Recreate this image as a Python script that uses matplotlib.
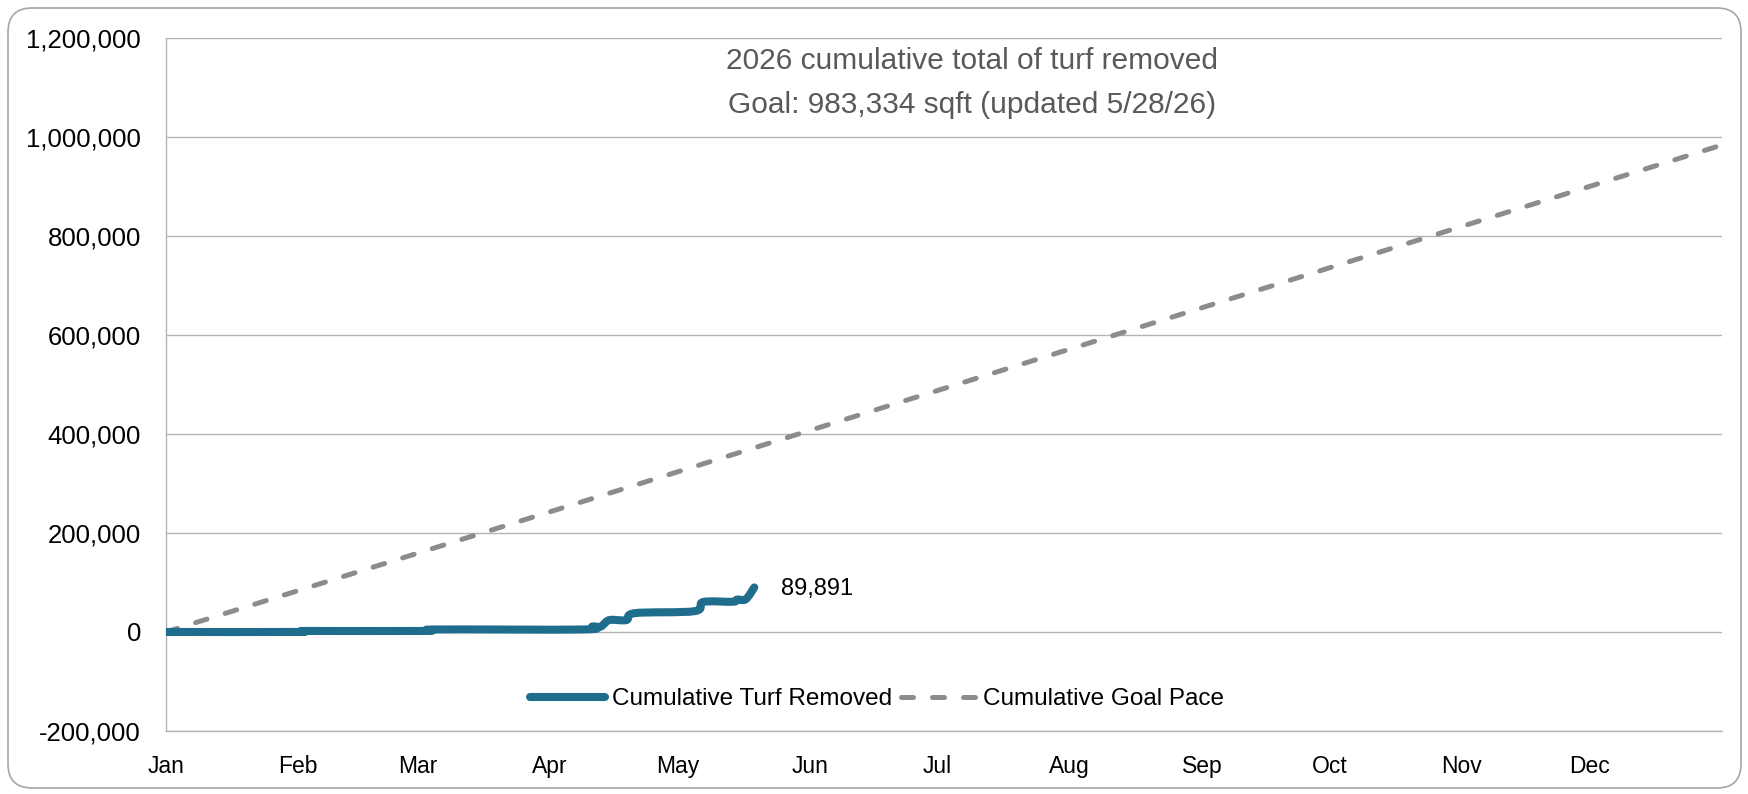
import matplotlib
matplotlib.use("Agg")
import matplotlib.pyplot as plt
from matplotlib import font_manager
from matplotlib.patches import FancyBboxPatch, PathPatch
from matplotlib.path import Path
from matplotlib.lines import Line2D
from matplotlib.transforms import IdentityTransform
from matplotlib.ticker import FuncFormatter

# ---- data ----
months = ["Jan", "Feb", "Mar", "Apr", "May", "Jun", "Jul", "Aug", "Sep", "Oct", "Nov", "Dec"]
month_start_days = [0, 31, 59, 90, 120, 151, 181, 212, 243, 273, 304, 334]

turf_days = [0, 31, 33, 61, 63, 98, 100, 102, 104, 108, 110, 124, 126, 133, 134, 136, 138]
turf_values = [0, 0, 2000, 2000, 5000, 5000, 11000, 11000, 24000, 24000, 38000, 42000,
               60500, 61000, 65500, 66000, 89891]

goal_days = [0, 365]
goal_values = [0, 983334]

title_line1 = "2026 cumulative total of turf removed"
title_line2 = "Goal: 983,334 sqft (updated 5/28/26)"
end_label = "89,891"

# ---- fonts ----
available = {f.name for f in font_manager.fontManager.ttflist}
main_font = "Liberation Sans" if "Liberation Sans" in available else "DejaVu Sans"
plt.rcParams["font.family"] = [main_font, "DejaVu Sans"]

W, H = 1749, 794
fig = plt.figure(figsize=(W / 100, H / 100), dpi=100)

border = FancyBboxPatch((8, 6), W - 16, H - 14,
                        boxstyle="round,pad=0,rounding_size=24",
                        transform=IdentityTransform(), facecolor="none",
                        edgecolor="#a6a6a6", linewidth=1.2, zorder=-1)
fig.patches.append(border)

left, right = 166 / W, 1722 / W
top, bottom = 1 - 37.7 / H, 1 - 731 / H
ax = fig.add_axes([left, bottom, right - left, top - bottom])
ax.set_facecolor("none")

blue = "#1f6d8c"
gray = "#8c8c8c"

ax.plot(goal_days, goal_values, color=gray, linewidth=3.6, dashes=(2.4, 3.8),
        dash_capstyle="round", solid_capstyle="round", zorder=3)


def smooth_path(xs, ys):
    """Smoothed line through the points (Catmull-Rom as cubic Bezier), like a smoothed Excel line."""
    pts = list(zip(xs, ys))
    n = len(pts)
    verts = [pts[0]]
    codes = [Path.MOVETO]
    for i in range(n - 1):
        p0 = pts[i - 1] if i > 0 else pts[i]
        p1 = pts[i]
        p2 = pts[i + 1]
        p3 = pts[i + 2] if i + 2 < n else pts[i + 1]
        c1 = (p1[0] + (p2[0] - p0[0]) / 6, p1[1] + (p2[1] - p0[1]) / 6)
        c2 = (p2[0] - (p3[0] - p1[0]) / 6, p2[1] - (p3[1] - p1[1]) / 6)
        verts += [c1, c2, p2]
        codes += [Path.CURVE4, Path.CURVE4, Path.CURVE4]
    return Path(verts, codes)


turf_patch = PathPatch(smooth_path(turf_days, turf_values), facecolor="none", edgecolor=blue,
                       linewidth=5.8, capstyle="round", joinstyle="round", zorder=4)
ax.add_patch(turf_patch)

ax.annotate(end_label, xy=(turf_days[-1], turf_values[-1]), xytext=(19, -1),
            textcoords="offset points", va="center", ha="left", fontsize=17, color="black")

ax.set_xlim(0, 365)
ax.set_ylim(-200000, 1200000)
ax.set_yticks(range(-200000, 1200001, 200000))
ax.yaxis.set_major_formatter(FuncFormatter(lambda v, p: f"{int(v):,}"))
ax.set_xticks(month_start_days)
ax.set_xticklabels(months)

ax.grid(axis="y", color="#b3b3b3", linewidth=1.0)
ax.set_axisbelow(True)
for s in ["top", "right"]:
    ax.spines[s].set_visible(False)
for s in ["left", "bottom"]:
    ax.spines[s].set_color("#b3b3b3")
    ax.spines[s].set_linewidth(1.0)
ax.tick_params(axis="y", length=0, pad=18, labelsize=18.5, labelcolor="black")
ax.tick_params(axis="x", length=0, pad=17, labelsize=16.5, labelcolor="black")

fig.text(972 / W, 1 - 61 / H, title_line1, ha="center", va="center", fontsize=21.5, color="#595959")
fig.text(972 / W, 1 - 105 / H, title_line2, ha="center", va="center", fontsize=21.5, color="#595959")

legend_handles = [
    Line2D([], [], color=blue, linewidth=5.8, solid_capstyle="round"),
    Line2D([], [], color=gray, linewidth=3.6, dashes=(2.4, 3.8), dash_capstyle="round"),
]
legend_labels = ["Cumulative Turf Removed", "Cumulative Goal Pace"]
fig.legend(legend_handles, legend_labels,
           loc="center", bbox_to_anchor=(877 / W, 1 - 699 / H), ncol=2,
           frameon=False, handlelength=3.1, handletextpad=0.25, columnspacing=0.4,
           prop={"size": 17.5})

fig.savefig("out.png", dpi=100)
